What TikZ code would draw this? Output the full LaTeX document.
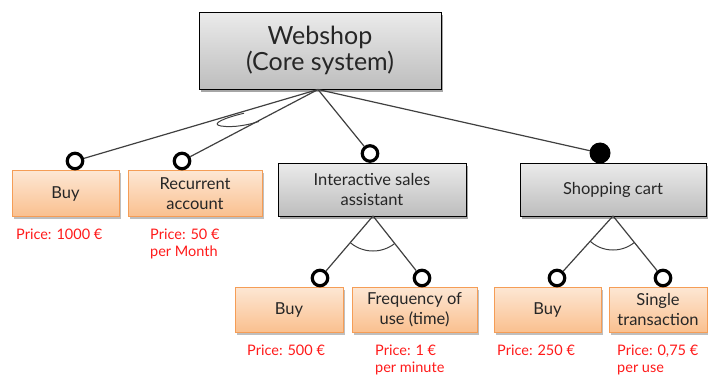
\documentclass[tikz,border=0pt]{standalone}
\usepackage{fontspec}
\setmainfont{Lato}
\usetikzlibrary{shadows}
\definecolor{boxtext}{HTML}{262626}
\definecolor{graytop}{HTML}{EBEBEB}
\definecolor{graybot}{HTML}{BDBDBD}
\definecolor{orgtop}{HTML}{FDE7D4}
\definecolor{orgbot}{HTML}{FAC08F}
\definecolor{orgdraw}{HTML}{F59D56}
\definecolor{pricered}{HTML}{FF1A1A}
\definecolor{linegray}{HTML}{404040}
\begin{document}
\begin{tikzpicture}[x=1pt,y=-1pt,
  graybox/.style={draw=black, line width=0.9pt, top color=graytop, bottom color=graybot,
    drop shadow={shadow xshift=2pt, shadow yshift=-2.5pt, opacity=0.35, fill=black},
    text=boxtext, align=center, inner sep=0pt},
  orangebox/.style={draw=orgdraw, line width=1pt, top color=orgtop, bottom color=orgbot,
    drop shadow={shadow xshift=2pt, shadow yshift=-2.5pt, opacity=0.25, fill=black},
    text=boxtext, align=center, inner sep=0pt, minimum height=46pt,
    font=\fontsize{16.5}{20}\selectfont},
  optc/.style={circle, draw=black, line width=3.2pt, fill=white, minimum size=15.5pt, inner sep=0pt},
  mandc/.style={circle, draw=black, line width=1pt, fill=black, minimum size=20pt, inner sep=0pt},
  conn/.style={draw=linegray, line width=1.2pt},
  price/.style={anchor=base west, inner sep=0pt, text=pricered, font=\fontsize{14.5}{17}\selectfont}]
\useasboundingbox (0,0) rectangle (708,376);

% boxes
\node[graybox, minimum width=242pt, minimum height=77pt, font=\fontsize{25}{26}\selectfont] (web) at (320,50.5) {Webshop\\(Core system)};
\node[orangebox, minimum width=107pt] (buy1) at (65.5,193.5) {Buy};
\node[orangebox, minimum width=134pt] (rec) at (195,193.5) {Recurrent\\account};
\node[graybox, minimum width=188pt, minimum height=53pt, font=\fontsize{16.5}{20}\selectfont] (isa) at (372,189.5) {Interactive sales\\assistant};
\node[graybox, minimum width=186pt, minimum height=53pt, font=\fontsize{16.5}{20}\selectfont] (cart) at (613,189.5) {Shopping cart};
\node[orangebox, minimum width=108pt, minimum height=45pt] (buy2) at (289,309.5) {Buy};
\node[orangebox, minimum width=125pt, minimum height=45pt] (freq) at (414.5,309.5) {Frequency of\\use (time)};
\node[orangebox, minimum width=107pt, minimum height=45pt] (buy3) at (547.5,309.5) {Buy};
\node[orangebox, minimum width=98pt, minimum height=45pt] (single) at (658,309.5) {Single\\transaction};

% junction points
\coordinate (wj) at (318,89.5);
\coordinate (ij) at (373,216);
\coordinate (cj) at (613,216);

% feature circles
\node[optc] (c1) at (75,161) {};
\node[optc] (c2) at (182,161) {};
\node[optc] (c3) at (370,153.5) {};
\node[mandc] (c4) at (600,153) {};
\node[optc] (c5) at (320,278) {};
\node[optc] (c6) at (422,278) {};
\node[optc] (c7) at (557,278) {};
\node[optc] (c8) at (663,278) {};

% connectors
\draw[conn] (wj) -- (c1);
\draw[conn] (wj) -- (c2);
\draw[conn] (wj) -- (c3);
\draw[conn] (wj) -- (c4);
\draw[conn] (ij) -- (c5);
\draw[conn] (ij) -- (c6);
\draw[conn] (cj) -- (c7);
\draw[conn] (cj) -- (c8);

% or-group mark
\draw[conn, line width=1pt] (244,113.2) .. controls (224,118) and (210,124) .. (221,126)
  .. controls (234,128) and (250,124.5) .. (259,121.4);

% and-group arcs
\begin{scope}
  \clip (ij) -- (c5.center) -- (c6.center) -- cycle;
  \draw[conn, line width=1pt] (ij) circle[radius=35pt];
\end{scope}
\begin{scope}
  \clip (cj) -- (c7.center) -- (c8.center) -- cycle;
  \draw[conn, line width=1pt] (cj) circle[radius=34pt];
\end{scope}

% prices
\node[price] (p1) at (16,239) {Price: 1000 €};
\node[price] (p2) at (150,239) {Price: 50 €};
\node[price] (p2b) at (150,256) {per Month};
\node[price] (p3) at (247,355) {Price: 500 €};
\node[price] (p4) at (375,355) {Price: 1 €};
\node[price] (p4b) at (375,372) {per minute};
\node[price] (p5) at (497,355) {Price: 250 €};
\node[price] (p6) at (617,355) {Price: 0,75 €};
\node[price] (p6b) at (617,372) {per use};
\end{tikzpicture}
\end{document}
